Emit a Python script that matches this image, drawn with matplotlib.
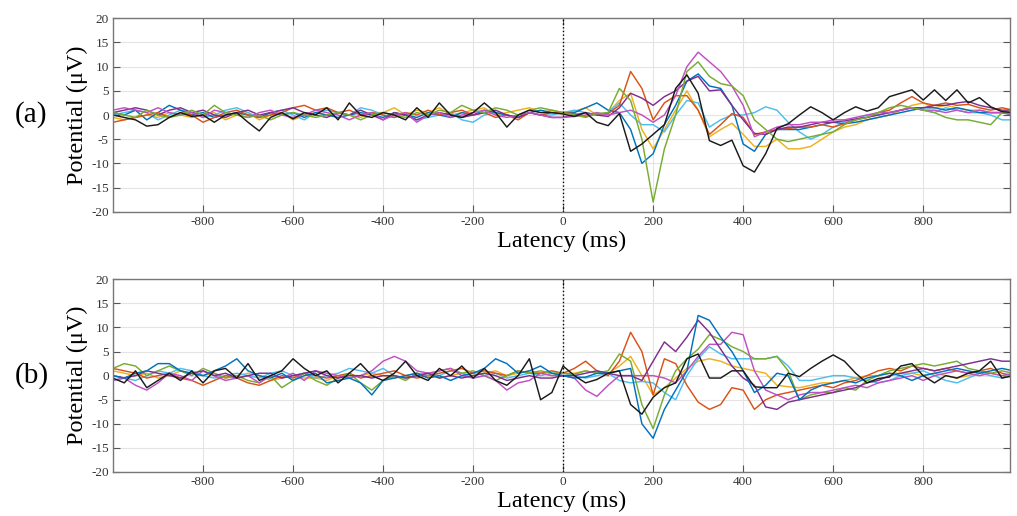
import numpy as np
import matplotlib.pyplot as plt

plt.rcParams['font.family'] = ['Liberation Serif', 'DejaVu Serif']
plt.rcParams['axes.unicode_minus'] = False

# latency axis (ms), one sample every 25 ms
latency = np.arange(-1000, 1001, 25)

# panel (a) traces, uV  (first 40 values: -1000..-25 ms, then 0..1000 ms)
a_black = [0, -0.5, -1, -2.3, -2, -0.5, 0.5, -0.3, 0, -1.5, 0, 0.5, -1.5, -3.3, -0.5, 0.5, -0.8, 0.5, 0, 1.5,
           -1, 2.5, 0, -0.5, 0.5, 0, -1, 1.5, -0.5, 2.5, 0, -0.5, 0.5, 2.5, 0.5, -2.5, 0, 1, 0.5, 0.5,
           0.2, -0.3, 0.5, -1.5, -2.2, 0.3, -7.5, -6, -4, -2, 5.5, 8.3, 4.5, -5.3, -6.3, -5.2, -10.5, -11.8, -8, -2.8,
           -1.8, 0, 1.7, 0.5, -1, 0.5, 1.7, 0.8, 1.5, 3.8, 4.5, 5.2, 3.1, 5.2, 3, 5.2, 2.5, 3.6, 1.7, 0.7, 0.5]
a_orange = [-1.5, -1, -0.5, 0, 0.5, -0.5, 0.5, 0, -1.5, -0.5, 0.5, 1, 0, -0.5, 0, 0.5, 1.5, 2, 1, 1.5,
            0.5, 1, 0, 0.5, 0, -0.5, 0.5, 0, 1, 0, 0.5, 1, 0, 0.5, -0.5, 0, -1, 0.5, 0, 0.5,
            0.5, 0.3, -0.3, 0.2, 0.3, 2, 9, 5.5, -1, 2.5, 4, 4, 1, -4, -2, 0.3, -0.5, -4, -3.5, -3,
            -2.8, -2.5, -2.5, -2, -2.5, -1.8, -1, -0.5, 0.5, 1, 2.5, 3.8, 2.5, 2, 2.5, 2, 2.2, 1.5, 1, 1.5, 1]
a_green = [0.5, 0, -0.5, 1, 0, -0.5, 0, 1, 0, 2, 0.5, 0, -0.5, 0, -1, 0, 0.5, 0, -0.5, 0,
           0.5, 0, -1, 0, 0.5, 0, -0.5, 0.5, 0, 1, 0.5, 2, 1, 0.5, 1.5, 1, 0, 1, 1.5, 1,
           0.5, 0, -0.5, 0.3, 0.5, 5.5, 3, -5, -18, -7, 0, 9, 11, 8, 6.5, 6, 4, -1, -3, -5,
           -5.5, -5, -4.5, -4, -3.5, -2, -1, -0.5, 0.5, 1.5, 2, 1.5, 1, 0.5, -0.5, -1, -1, -1.5, -2, 0.5, 1]
a_yellow = [-0.5, -1, -0.5, 0, -0.5, 0.5, 0, -0.5, 0, 0.5, -1, 0, 0.5, -1, 0, 0.5, -1, 0, 0.5, 0,
            0.5, 0, -0.5, 0.5, 0.5, 1.5, 0, 1, 0.5, 1.5, 0, 0.5, 1, 1.5, 0, 0.5, 1, 1.5, 0.5, 1,
            0.5, 0.8, 1.5, 0, 0.5, 3, 4.5, -3, -7, -3, 1, 5, 1, -4.5, -3, -1.7, -4, -6.5, -6.5, -5,
            -7, -7, -6.5, -5, -3.5, -2.5, -2, -1, -0.5, 0, 1, 2, 2.5, 1.5, 2, 1.5, 1, 1, 0.5, 0.5, 0.5]
a_blue = [0.5, 0, 1, -1, 0.5, 2, 1, 0, 0.5, -0.5, 0, 0.5, 0, -0.5, 0.5, 0, 0.5, -0.5, 0.5, 0,
          -0.5, 0, 0.5, 0, -0.5, 0.5, 0, -0.5, 0.5, 0, -0.5, 0.5, 0, 1, 0.5, 0, -0.5, 0.5, 1, 0.5,
          0.5, 0.5, 1.5, 2.5, 1, 0.5, -3, -10, -8, -2, 2, 7, 8.5, 6, 5.5, 2, -6, -7.5, -4, -3,
          -3, -3, -2.5, -2, -1.5, -1.8, -1.5, -1, -0.5, 0, 0.5, 1, 1.5, 1.5, 1, 1.5, 1, 0.5, 0.5, 0.5, 0]
a_purple = [0.5, 1, 1.5, 1, 0, 1, 1.5, 0.5, 1, 0, -0.5, 0.5, 1, 0, 0.5, 1, 1.5, 0.5, 0, -0.5,
            0.5, 0, 1, 0, -1, 0.5, 0, -1, 0, 0.5, 0, -0.5, 0, 0.5, 1, 0, -0.5, 0.5, 0, -0.5,
            -0.5, 0, 0.5, 0, -0.3, 1.5, 4.5, 3.5, 2, 3.8, 5, 7, 8, 5, 5.2, 2, -1, -3.8, -4, -3,
            -2.5, -2.5, -2, -1.5, -1.5, -1.2, -0.8, -0.5, 0, 0.5, 1, 1.5, 1.5, 2, 2, 2.5, 2.8, 2, 1.5, 1, 1]
a_magenta = [1, 1.5, 1, 0.5, 1.5, 0.5, 0, 0.5, -0.5, 1, 0.5, 0, -0.5, 0.5, 1, 0, -0.5, 0, 1, 0.5,
             0, -1, 0, 0.5, -1, 0, 0.5, -1.5, 0, 0.5, -0.5, 0, 0.5, 1, 0, -0.5, 0, 0.5, 0, -0.5,
             -0.5, -0.3, 0, 0.5, 0, 0.5, 1, 0, -1.5, 0, 4, 10, 13, 11, 9, 6, 2, -4.5, -3.5, -2.5,
             -2, -2, -1.5, -1.5, -1, -1, -0.5, 0, 0.5, 0.5, 1, 1.5, 1, 1, 0.5, 1, 0.5, 1, 0.5, 0.5, 0]
a_cyan = [0, 0.5, 1, 0.5, -1, 0, 1, 0.5, -0.5, 0, 1, 1.5, 0.5, -0.5, 0.5, 1, 0, -1, 0.5, 1,
          0.5, 0, 1.5, 1, 0, -0.5, 0, -1, -0.5, 0, 0.5, -1, -1.5, 0, 0.5, 0, -0.5, 0.5, 0, 0,
          0.5, 1, 0.5, 0, 0.5, 2.5, 0, -2, -2, -3.5, 0, 3, 2.5, -2.5, -1, 0, 0, 0.5, 1.7, 1,
          -1.5, -3.5, -5, -4, -2.5, -1.5, -1, 0, 0, 0.5, 1, 1.5, 1, 0.5, 1.5, 1, 0.5, 0.5, 0, -1, -1]

# panel (b) traces, uV
b_black = [-0.5, -1.5, 1, -2.5, -1, 0.5, -1, 1, -1.5, 1, 1.5, -0.5, 2.5, -1, 0, 1, 3.5, 1.5, 0, 1,
           -1.5, 0.5, 2.5, 0, -1, 0.5, 3, 0, -1, 1.5, 0, 2, -0.5, 1.5, -1, -2, 0, 3.5, -5, -3.5,
           2, 0, -1.5, -0.8, 0.5, 1, -6, -8, -4.5, -2.5, -1.5, 3.5, 4.5, -0.5, -0.5, 1, 1, -2.3, -2.5, -2.5,
           0.5, -0.2, 1.5, 3, 4.3, 3, 0.5, -1.5, -0.6, -0.3, 2, 2.5, 0, -1.5, 0, -0.5, 0.5, 1, 3, -0.5, 0]
b_orange = [1.5, 1, 0.5, -0.5, 0, 0.5, -0.5, -1, -2, -1, 0, -0.5, -1.5, -2, -1, 0, -0.5, 0.5, 0, -0.5,
            0, 0.5, -0.5, 0, 0.5, 1, 0, -0.5, 0, 0.5, 1, 1.5, 0.5, 1, 0.5, 0, 1, 0.5, 0.5, 1,
            0.5, 1.5, 3, 1, 0, 3, 9, 5, -4, 3.5, 2.5, -2, -5.5, -7, -6, -2.5, -3, -7, -5, -4,
            -3.5, -3, -2.5, -2, -2.5, -1.5, -1, 0, 1, 1.5, 1, 2, 1.5, 1, 1.5, 1, 0.5, 1, 1.5, 0.5, 0]
b_green = [1.5, 2.5, 2, 0, 1, 2, 1, 0, 1.5, 0.5, -0.5, 0, -1, -1.5, 0, -2.5, -1, 0.5, -1, -2,
           -0.5, 0.5, -1.5, -3, -1, 0, -1, 0.5, 0, 1, 1.5, 0.5, 1, 0, -1, 0, 1, 0.5, 1, 0.5,
           0.5, 0.3, 1, 0.5, 1, 4.5, 3, -6, -11, -4, 1, 3.5, 5.5, 8.5, 7.5, 6, 5, 3.5, 3.5, 4,
           1, -5, -4, -3.5, -3.5, -2.5, -3, -1, 0, 1, 1.5, 2, 2.5, 2, 2.5, 3, 1.5, 1, 0.5, 1, 0.5]
b_yellow = [1, 0.5, 0, 0.5, -0.5, 0, 1, 0.5, 0, 0.5, -0.5, 0, 0.5, 0, -1, -0.5, 0, -0.5, -0.5, -1,
            0, -0.5, 0, 0.5, 0, -0.5, 0, 0.5, 0, -0.5, 0, 0.5, 0, 0.5, 1, 0, 0.5, 1, 0.5, 0,
            0.5, 0.5, 1, 0.5, 0.5, 2, 4, 0, -4, -2.5, -0.5, 1.5, 3, 3.5, 3, 2, 1.5, 1, 0.5, -2,
            -2.3, -2.5, -2, -1.5, -1.5, -1, -0.5, 0, 0, 0.5, 0.5, 0.5, 0, 0.5, 0, -0.5, 0, 0.5, 0.5, 0, 0]
b_blue = [0, -0.5, 0.5, 1, 2.5, 2.5, 1, 0.5, 0, 1, 2, 3.5, 1, 0, -0.5, 0.5, -1, 0, 0.5, -1.5,
          -1, -0.5, -1.5, -4, -1, -0.5, 0, 0.5, -0.5, 0, -1, 0, 0.5, 1.5, 3.5, 2.5, 0.5, 1, 2, 0.5,
          0, -0.5, -0.3, 0.5, 0.5, 1, 1.5, -10, -13, -7, -3, 1, 12.5, 11.5, 8, 5, 1, -3.5, -2, 0.5,
          0, -5, -3, -2, -1.5, -1, -1.5, -0.5, 0, 0.5, 0, -1, 0, 0.5, 1, 1.5, 1, 0.5, 1, 1.5, 1]
b_purple = [0, -0.5, 0, 1, 0.5, 0, -0.5, 0.5, 1, 0, 0.5, -0.5, 0, 0.5, 0.5, -0.5, 0, 0.5, 1, 0,
            -0.5, 0, 0, -0.5, 0, 0, -0.5, 0, 0.5, -0.5, 0, -0.5, 0, 0.5, 0, -1, -0.5, 0, -0.5, -0.5,
            0, 0, 0.5, 1, 0.5, 0, 0, -1, 3, 7, 5, 8, 11.5, 9, 5.5, 2, -0.5, -2, -6.5, -7,
            -5.5, -5, -4.5, -4, -3.5, -3, -2.5, -1.5, -1, 0, 0.5, 1, 1.5, 1, 1.5, 2, 2.5, 3, 3.5, 3, 3]
b_magenta = [-1, -0.5, -2, -3, -1.5, 0.5, 0, -1, 1, 0, -1, -0.5, 0, -1.5, 0, -0.5, 0.5, -1, 1, 0.5,
             0, -0.5, 0, 1, 3, 4, 3, 1, 0.5, 1, 1.5, 0, -0.5, 0, -1, -3, -1.5, -1, 0.5, 0,
             0, -0.5, -3, -4.3, -2, 0, 0, 0, 0, -0.5, -1.5, 1, 4, 6.5, 6.5, 9, 8.5, 1, -3, -4,
             -5, -4, -3.5, -3.5, -3, -2.5, -2, -2.5, -1.5, -1, -0.5, 0, -1, 0, 0.5, 1, 0.5, 0, 0.5, 0, 0.5]
b_cyan = [-1, -0.5, -1, 0, 1, 0.5, 1.5, 1, 0, -0.5, 0, 0.5, 0, -0.5, 0.5, 1, 0, 0.5, -0.5, 0,
          0.5, 1.5, 1, 0.5, 1.5, 0, -0.5, 0, 0.5, 0, 1, 0.5, -0.5, 0, 0.5, -0.5, 0, 0.5, 0, 0.5,
          0.5, 0, -0.5, 0, 0.5, -1, -1.5, -1.2, -1.5, -3.5, -5, 0, 3.5, 6, 4.5, 3.5, 3.5, 3.5, 3.5, 4,
          2, -1, -1, -0.5, 0, 0, -0.5, -1, -1.5, -1, 0, 0.5, 1, 0, -1, -1.5, -0.5, 0.5, 0, -0.5, 0]

colors = {'blue': '#0072BD', 'orange': '#D95319', 'yellow': '#EDB120', 'purple': '#7E2F8E',
          'green': '#77AC30', 'cyan': '#4DBEEE', 'magenta': '#C050C4', 'black': '#1a1a1a'}

panel_a = [('yellow', a_yellow), ('cyan', a_cyan), ('blue', a_blue), ('orange', a_orange),
           ('purple', a_purple), ('magenta', a_magenta), ('green', a_green), ('black', a_black)]
panel_b = [('yellow', b_yellow), ('cyan', b_cyan), ('orange', b_orange), ('green', b_green),
           ('magenta', b_magenta), ('purple', b_purple), ('blue', b_blue), ('black', b_black)]

fig = plt.figure(figsize=(10.17, 5.16), dpi=100)
ax_a = fig.add_axes([0.1111, 0.5897, 0.8821, 0.3748])
ax_b = fig.add_axes([0.1111, 0.0853, 0.8821, 0.3734])


def draw_panel(ax, traces, tag):
    for name, vals in traces:
        ax.plot(latency, vals, color=colors[name], lw=1.05, solid_joinstyle='round')
    ax.axvline(0, color='black', ls=':', lw=1.0)
    ax.set_xlim(-1000, 993)
    ax.set_ylim(-20, 20)
    ax.set_xticks(np.arange(-800, 801, 200))
    ax.set_yticks(np.arange(-20, 21, 5))
    ax.grid(True, color='#e4e4e4', lw=0.8)
    ax.set_axisbelow(True)
    ax.tick_params(direction='in', length=5, top=True, right=True, labelsize=9.5,
                   labelcolor='#333333', color='#555555', pad=3)
    for sp in ax.spines.values():
        sp.set_color('#777777')
        sp.set_linewidth(1.0)
    ax.set_xlabel('Latency (ms)', fontsize=17.5, labelpad=2)
    ax.set_ylabel('Potential (\u03bcV)', fontsize=17.5, labelpad=2)
    ax.text(-0.091, 0.5, tag, transform=ax.transAxes, fontsize=21, ha='center', va='center')


draw_panel(ax_a, panel_a, '(a)')
draw_panel(ax_b, panel_b, '(b)')

fig.savefig('out.png', dpi=100)
